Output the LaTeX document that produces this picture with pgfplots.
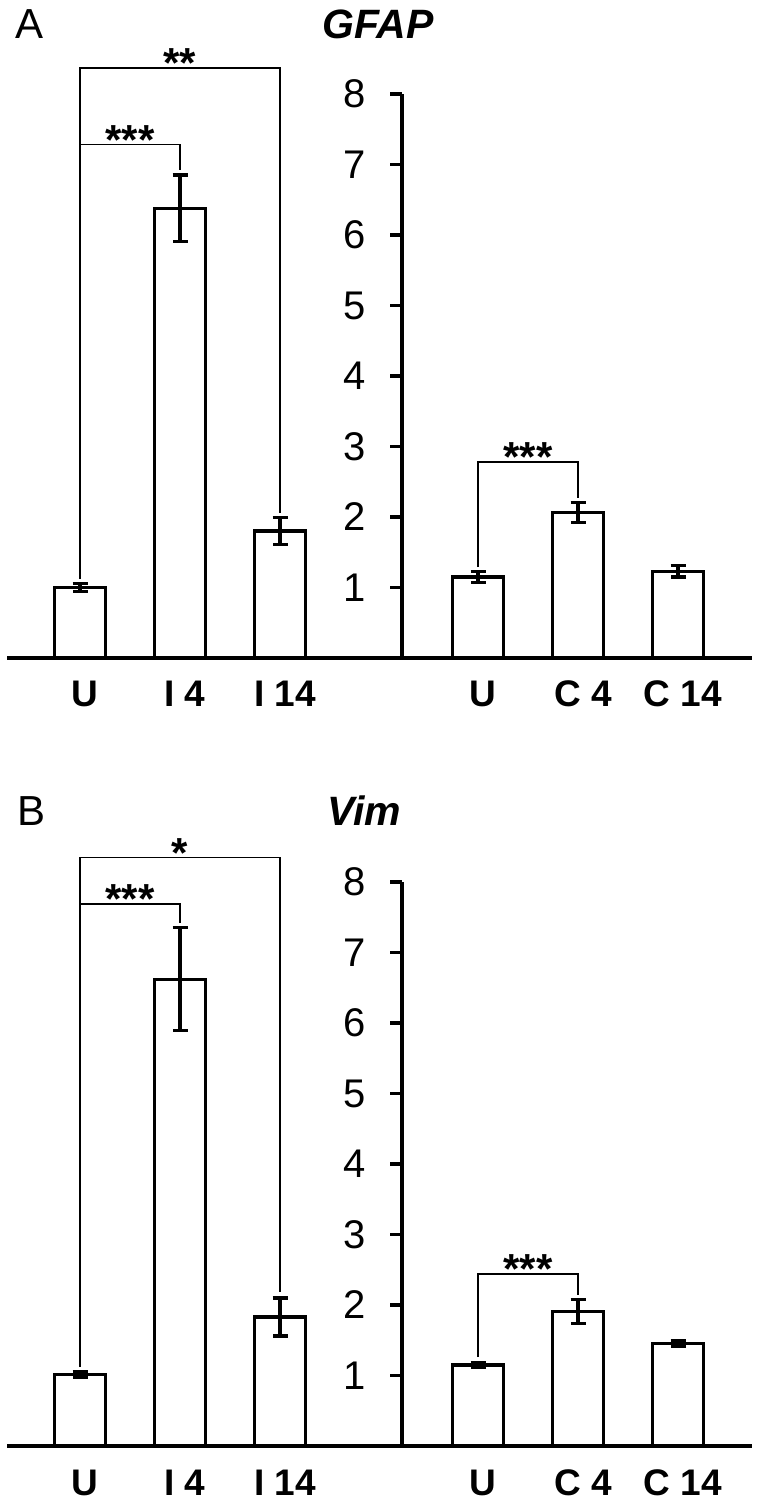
\documentclass[border=0pt]{standalone}
\usepackage{pgfplots}
\pgfplotsset{compat=1.18}
\usepackage{fontspec}
\setmainfont{Liberation Sans}
\begin{document}
\begin{tikzpicture}
\useasboundingbox (0,0) rectangle (380pt,751pt);
\tikzset{
  brk/.style={line width=0.75pt, black},
  stars/.style={font=\fontsize{21}{21}\selectfont\bfseries, inner sep=0pt, anchor=base, yshift=-5pt},
}
\pgfplotsset{
  panel/.style={x=50pt, y=35.25pt, ymin=0, ymax=8, clip=false, ybar, bar width=25.5pt,
    axis line style={line width=1.6pt, -},
    tick align=outside, major tick length=6pt,
    xtick style={draw=none},
    ytick style={line width=1.6pt, black},
    xticklabel style={font=\fontsize{18.5}{18.5}\selectfont\bfseries, anchor=base, yshift=-18.5pt, xshift=2.5pt},
    yticklabel style={font=\fontsize{20}{20}\selectfont, xshift=-8.5pt},
    /pgf/number format/assume math mode=true,
  },
  leftpanel/.style={panel, xmin=-0.73, xmax=3.22, axis x line*=bottom, axis y line=none,
    xtick={0,1,2}, xticklabels={U,I 4,I 14}},
  rightpanel/.style={panel, xmin=3.24, xmax=6.74, axis x line*=bottom, axis y line*=left,
    xtick={4,5,6}, xticklabels={U,C 4,C 14}, ytick={1,2,3,4,5,6,7,8}},
  bars/.style={fill=white, draw=black, line width=1.6pt,
    error bars/.cd, y dir=both, y explicit,
    error bar style={line width=1.6pt, black},
    error mark options={rotate=90, line width=1.6pt, mark size=3.75pt, black}},
}
% ---------- Panel A ----------
\node[anchor=base west, inner sep=0pt, font=\fontsize{21}{21}\selectfont] at (7.5pt,731.5pt) {A};
\node[anchor=base, inner sep=0pt, font=\fontsize{20.5}{20.5}\selectfont\bfseries\itshape] at (189pt,731.5pt) {GFAP};
\begin{axis}[leftpanel, at={(3.5pt,422pt)}, anchor=south west]
\addplot[bars] table[x=x, y=y, y error=e] {
x y e
0 1.00 0.06
1 6.38 0.47
2 1.80 0.19
};
\draw[brk] (axis cs:0,1.12) -- (axis cs:0,8.37) -- (axis cs:2,8.37) -- (axis cs:2,2.06);
\draw[brk] (axis cs:0,7.28) -- (axis cs:1,7.28) -- (axis cs:1,6.92);
\node[stars] at (axis cs:1,8.37) {**};
\node[stars] at (axis cs:0.5,7.28) {***};
\end{axis}
\begin{axis}[rightpanel, at={(201pt,422pt)}, anchor=south west]
\addplot[bars] table[x=x, y=y, y error=e] {
x y e
4 1.15 0.08
5 2.06 0.14
6 1.23 0.08
};
\draw[brk] (axis cs:4,1.29) -- (axis cs:4,2.78) -- (axis cs:5,2.78) -- (axis cs:5,2.27);
\node[stars] at (axis cs:4.5,2.78) {***};
\end{axis}
% ---------- Panel B ----------
\node[anchor=base west, inner sep=0pt, font=\fontsize{21}{21}\selectfont] at (8.5pt,338pt) {B};
\node[anchor=base, inner sep=0pt, font=\fontsize{20.5}{20.5}\selectfont\bfseries\itshape] at (182pt,338pt) {Vim};
\begin{axis}[leftpanel, at={(3.5pt,28pt)}, anchor=south west]
\addplot[bars] table[x=x, y=y, y error=e] {
x y e
0 1.01 0.04
1 6.62 0.73
2 1.83 0.27
};
\draw[brk] (axis cs:0,1.12) -- (axis cs:0,8.35) -- (axis cs:2,8.35) -- (axis cs:2,2.18);
\draw[brk] (axis cs:0,7.69) -- (axis cs:1,7.69) -- (axis cs:1,7.42);
\node[stars] at (axis cs:1,8.35) {*};
\node[stars] at (axis cs:0.5,7.69) {***};
\end{axis}
\begin{axis}[rightpanel, at={(201pt,28pt)}, anchor=south west]
\addplot[bars] table[x=x, y=y, y error=e] {
x y e
4 1.15 0.03
5 1.91 0.17
6 1.45 0.04
};
\draw[brk] (axis cs:4,1.26) -- (axis cs:4,2.44) -- (axis cs:5,2.44) -- (axis cs:5,2.14);
\node[stars] at (axis cs:4.5,2.44) {***};
\end{axis}
\end{tikzpicture}
\end{document}
